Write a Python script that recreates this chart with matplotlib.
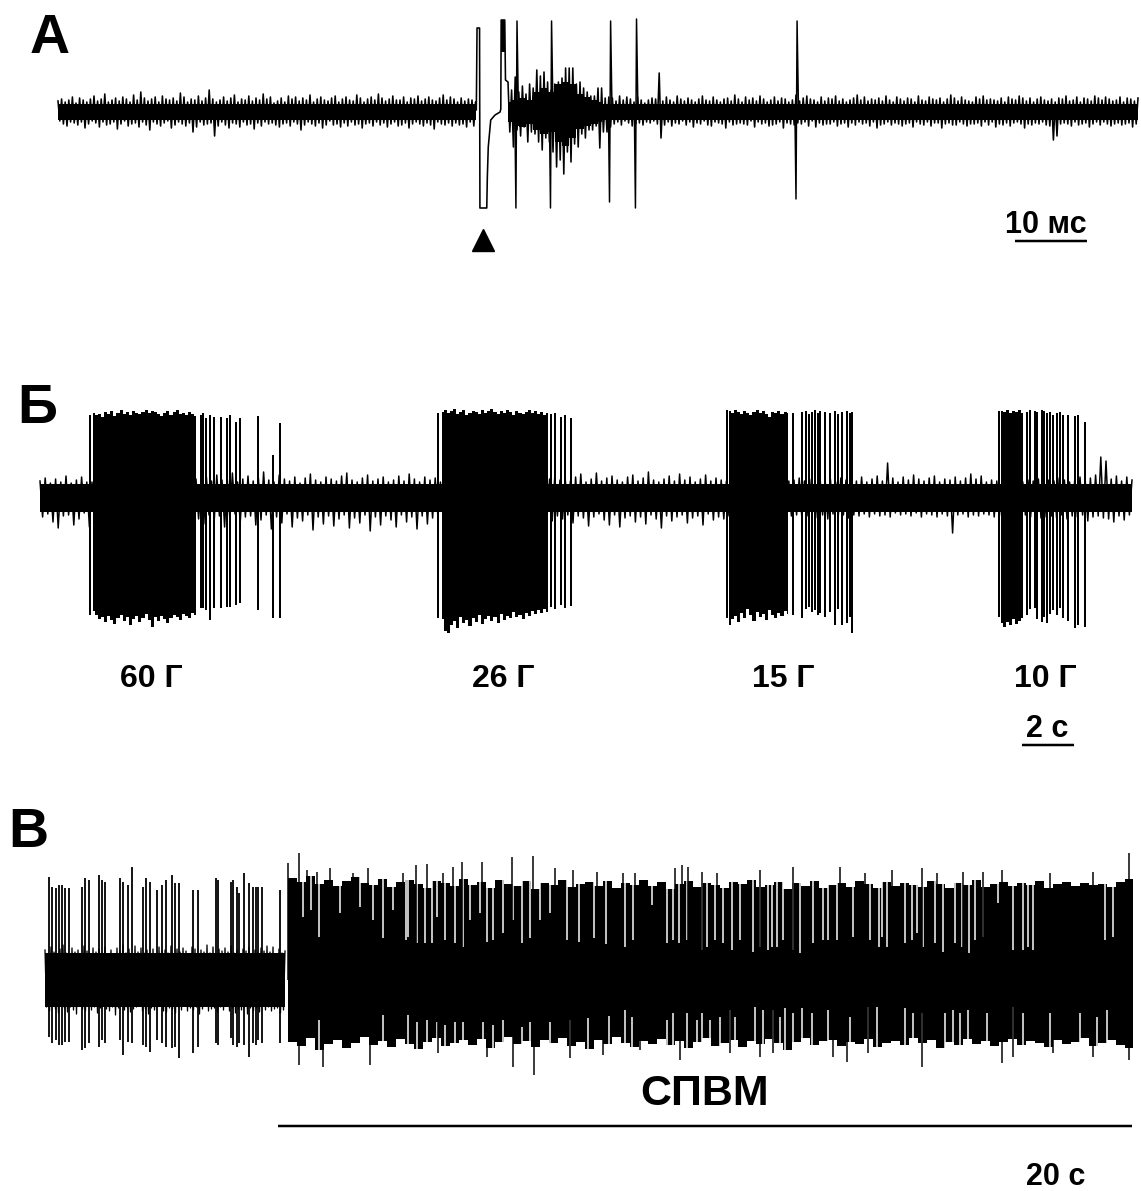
import matplotlib.pyplot as plt
import numpy as np

plt.rcParams['font.family'] = ['Liberation Sans', 'DejaVu Sans']
plt.rcParams['font.weight'] = 'bold'

W, H, DPI = 1141, 1191, 100
PX = 72.0 / DPI  # one pixel expressed in points

# ---------------- A: evoked response (time in ms, amplitude in a.u.) ----------------
a_dt = 0.25
a_pre = [11, -9, 13, -12, 10, -14, 12, -10, 15, -11,
         9, -13, 14, -10, 12, -16, 10, -12, 13, -9,
         16, -11, 11, -15, 13, -10, 18, -13, 10, -12,
         12, -10, 14, -17, 11, -12, 15, -9, 13, -14,
         10, -12, 17, -11, 12, -15, 20, -10, 14, -13,
         11, -18, 13, -10, 15, -12, 10, -14, 16, -11,
         13, -9, 12, -16, 14, -13, 11, -10, 19, -12,
         15, -14, 10, -11, 13, -20, 12, -15, 16, -10,
         11, -13, 14, -12, 22, -11, 13, -24, 10, -14,
         12, -10, 15, -13, 11, -16, 14, -11, 17, -12,
         10, -15, 13, -10, 12, -13, 16, -12, 11, -17,
         14, -11, 12, -14, 18, -10, 13, -12, 15, -11,
         9, -13, 11, -15, 14, -12, 10, -11, 16, -14,
         13, -10, 15, -12, 11, -18, 14, -13, 12, -10,
         17, -12, 10, -14, 13, -11, 15, -16, 12, -13,
         11, -9, 14, -13, 16, -12, 10, -15, 13, -11,
         15, -14, 12, -10, 11, -13, 17, -12, 14, -16,
         10, -12, 13, -11, 15, -14, 12, -10, 18, -13,
         14, -11, 11, -15, 13, -12, 16, -10, 12, -14,
         12, -13, 15, -11, 10, -16, 14, -12, 13, -10,
         16, -12, 11, -14, 13, -11, 15, -13, 12, -17,
         11, -10, 14, -12, 17, -13, 12, -11, 15, -14,
         13, -11, 10, -13, 14, -12, 11, -15, 13, -10,
         12, -14, 10]
a_art_t = [58.1, 58.2, 58.55, 58.6, 59.55, 59.63, 59.76, 60.1, 60.7, 61.4, 61.5, 61.55, 62.05, 62.15]
a_art_v = [2, 84, 84, -96, -96, -65, -35, -8, -3, 0, 3, 92, 92, 32]
a_post_t0 = 62.5
a_post = [30, -20, 22, -35, 35, -18, 20, -24, 26, -15,
          18, -30, 28, -20, 24, -22, 42, -30, 36, -38,
          40, -26, 30, -30, 22, -40, 28, -55, 30, -48,
          34, -62, 44, -40, 44, -50, 44, -32, 28, -35,
          30, -22, 24, -26, 20, -18, 16, -18, 16, -14,
          24, -36, 24, -20, 14, -20, 15, -15,
          14, -12, 11, -10, 16, -13, 12, -9, 15, -11,
          13, -14, 10, -12, 15, -11, 12, -13, 9, -10,
          12, -11, 14, -9, 13, -12, 39, -26, 11, -13,
          15, -10, 12, -14, 10, -11, 16, -12, 13, -9,
          11, -13, 14, -10, 12, -15, 10, -11, 13, -12,
          16, -9, 12, -13, 11, -14, 15, -10, 12, -11,
          10, -12, 13, -16, 14, -10, 11, -13, 17, -12,
          13, -11, 10, -12, 15, -13, 12, -9, 14, -15,
          11, -10, 16, -12, 13, -11, 10, -14, 12, -13,
          15, -12, 11, -10, 14, -16, 13, -11, 10, -12,
          12, -13, 17, -11, 11, -12, 14, -10, 16, -14,
          13, -9, 12, -15, 10, -11, 15, -13, 11, -12,
          14, -12, 13, -10, 16, -14, 11, -12, 13, -11,
          10, -15, 12, -11, 14, -13, 17, -10, 12, -12,
          15, -11, 11, -14, 13, -10, 12, -16, 14, -13,
          11, -12, 16, -10, 12, -13, 10, -11, 15, -12,
          13, -14, 11, -12, 14, -11, 13, -15, 10, -10,
          16, -12, 12, -13, 11, -10, 15, -14, 13, -11,
          12, -11, 14, -16, 10, -12, 13, -11, 17, -13,
          14, -13, 11, -10, 15, -12, 12, -14, 11, -12,
          10, -12, 15, -11, 13, -14, 16, -10, 12, -13,
          13, -10, 12, -15, 11, -12, 14, -13, 10, -11,
          15, -14, 13, -11, 12, -10, 16, -12, 14, -16,
          11, -12, 14, -13, 10, -11, 13, -12, 15, -10,
          12, -13, 11, -14, 13, -28, 10, -24, 14, -12,
          13, -11, 16, -12, 11, -14, 12, -10, 15, -13,
          10, -12, 14, -11, 13, -15, 11, -12, 16, -10,
          14, -13, 12, -10, 15, -12, 13, -14, 11, -12,
          12, -11, 15, -13, 10, -12, 14, -11, 13, -15,
          11, -12, 14]
# dense part of the response, 1 ms bins
a_resp_t0 = 62.5
a_resp_top = [10, 12, 14, 12, 20, 24, 20, 28, 30, 28, 18, 15, 12, 10]
a_resp_bot = [-10, -14, -15, -12, -18, -22, -20, -30, -34, -26, -17, -14, -12, -10]
a_spike_t = [63.7, 68.5, 76.7, 80.3, 102.6]
a_spike_top = [91, 91, 91, 93, 91]
a_spike_bot = [-96, -96, -90, -96, -87]
a_stim_t = 59.0

# ---------------- Б: responses to loads (time in s) ----------------
b_dt = 0.1
b_noise = [16, -20, 19, -17, 14, -25, 18, -31, 15, -19,
           21, -18, 14, -28, 17, -22, 20, -16, 15, -30,
           15, -18, 16, -19, 15, -18, 16, -19, 15, -18,
           16, -19, 15, -18, 16, -19, 15, -18, 16, -19,
           15, -18, 16, -19, 15, -18, 16, -19, 15, -18,
           16, -19, 15, -18, 16, -19, 15, -18, 16, -19,
           18, -22, 15, -27, 20, -18, 16, -24, 22, -19,
           17, -30, 19, -21, 24, -17, 15, -26, 18, -20,
           21, -19, 16, -28, 19, -23, 25, -18, 17, -32,
           15, -20, 22, -26, 18, -17, 16, -30, 20, -21,
           14, -24, 19, -18, 23, -33, 17, -20, 15, -27,
           20, -19, 18, -29, 16, -22, 21, -18, 24, -31,
           17, -21, 15, -26, 19, -18, 22, -34, 16, -20,
           18, -28, 20, -19, 15, -23, 17, -30, 21, -18,
           16, -25, 23, -20, 18, -32, 15, -19, 20, -27,
           17, -21, 19, -18, 15, -19, 16, -18, 15, -19,
           16, -18, 15, -19, 16, -18, 15, -19, 16, -18,
           15, -19, 16, -18, 15, -19, 16, -18, 15, -19,
           16, -18, 15, -19, 16, -18, 15, -19, 16, -18,
           15, -19, 16, -18, 15, -20, 18, -24, 21, -19,
           17, -22, 19, -18, 16, -26, 20, -19, 23, -21,
           15, -29, 18, -20, 24, -17, 16, -23, 19, -28,
           21, -18, 17, -30, 15, -21, 20, -19, 22, -25,
           16, -20, 19, -27, 25, -18, 17, -22, 15, -31,
           18, -19, 21, -24, 16, -20, 23, -18, 17, -26,
           20, -21, 15, -19, 18, -28, 22, -17, 16, -23,
           19, -20, 17, -22, 16, -19, 15, -18, 16, -19,
           15, -18, 16, -19, 15, -18, 16, -19, 15, -18,
           16, -19, 15, -18, 16, -19, 15, -18, 16, -19,
           17, -18, 19, -20, 16, -19, 18, -17, 15, -21,
           20, -18, 16, -22, 18, -17, 15, -20, 19, -18,
           17, -21, 22, -18, 16, -19, 20, -17, 15, -20,
           18, -17, 21, -19, 16, -18, 34, -20, 19, -16,
           15, -18, 20, -17, 17, -19, 22, -16, 18, -20,
           16, -17, 19, -18, 21, -20, 15, -17, 18, -19,
           17, -36, 20, -18, 16, -17, 19, -20, 23, -18,
           18, -19, 21, -17, 15, -18, 17, -20, 16, -19,
           15, -18, 16, -19, 15, -18, 16, -19, 15, -18,
           17, -20, 16, -19, 18, -21, 15, -20, 17, -19,
           16, -21, 19, -18, 17, -22, 15, -19, 18, -20,
           20, -18, 17, -24, 19, -20, 22, -19, 40, -21,
           36, -22, 18, -25, 21, -19, 16, -23, 20, -18,
           17]
b_burst_dt = 0.12
b_burst_start = [2.04, 15.46, 26.5, 36.96]
b1_top = [84, 82, 83, 80, 85, 83, 86, 81, 84, 87, 83, 85, 82, 86, 84, 83, 85,
          87, 84, 86, 85, 83, 81, 84, 86, 82, 85, 87, 83, 84, 82, 85, 83, 81]
b1_bot = [-114, -118, -122, -120, -125, -119, -123, -127, -121, -118, -124, -120,
          -128, -122, -119, -125, -121, -117, -123, -130, -120, -124, -119, -122,
          -126, -121, -118, -120, -123, -117, -119, -121, -116, -118]
b2_top = [85, 87, 84, 86, 88, 83, 85, 87, 82, 84, 86, 85, 83, 87, 84, 86, 88, 85,
          83, 86, 84, 87, 85, 82, 86, 84, 83, 85, 87, 84, 86, 83, 85, 82, 84]
b2_bot = [-122, -134, -136, -128, -124, -131, -120, -126, -123, -129, -121, -125,
          -118, -127, -122, -119, -124, -120, -126, -117, -123, -119, -121, -115,
          -120, -118, -122, -116, -119, -114, -117, -113, -116, -112, -115]
b3_top = [86, 84, 87, 85, 83, 86, 84, 82, 85, 87, 84, 86, 83, 80, 85, 84, 86, 83, 85, 84]
b3_bot = [-128, -122, -119, -125, -116, -121, -112, -118, -124, -115,
          -120, -117, -123, -113, -118, -121, -116, -119, -114, -117]
b4_top = [86, 85, 87, 84, 86, 85, 87, 84]
b4_bot = [-126, -130, -125, -128, -122, -127, -124, -121]
b_spike_t = [1.92, 6.18, 6.28, 6.37, 6.54, 6.70, 6.95, 7.20, 7.31, 7.54, 7.69, 8.40, 8.95, 9.23,
             15.31, 19.65, 19.81, 20.04, 20.19, 20.42,
             26.42, 28.97, 29.30, 29.46, 29.58, 29.69, 29.81, 29.92, 30.00, 30.19, 30.38,
             30.58, 30.70, 30.83, 31.03, 31.15, 31.22,
             36.88, 37.95, 38.08, 38.27, 38.35, 38.54, 38.63, 38.73, 38.85, 38.97, 39.10,
             39.23, 39.36, 39.55, 39.81, 39.94, 40.19]
b_spike_top = [82, 82, 84, 79, 82, 80, 80, 79, 82, 75, 79, 81, 42, 74,
               84, 83, 84, 80, 82, 79,
               87, 84, 85, 86, 83, 85, 87, 84, 86, 85, 84,
               86, 83, 85, 86, 84, 85,
               86, 85, 87, 86, 85, 87, 86, 84, 85, 82, 84,
               85, 82, 82, 81, 82, 75]
b_spike_bot = [-118, -111, -111, -113, -123, -111, -111, -110, -110, -108, -106, -113, -121, -121,
               -121, -110, -112, -108, -111, -109,
               -121, -118, -121, -112, -110, -115, -113, -118, -116, -120, -115,
               -128, -112, -128, -126, -120, -136,
               -120, -118, -112, -111, -122, -125, -120, -126, -117, -113, -118,
               -111, -121, -124, -131, -128, -130]
b_loads = ['60 Г', '26 Г', '15 Г', '10 Г']
b_load_t = [4.3, 17.8, 28.6, 38.65]

# ---------------- В: activity before and during СПВМ (time in s) ----------------
v_noise_dt = 0.5
v_noise = [30, -27, 26, -31, 33, -25, 28, -29, 24, -33,
           31, -26, 35, -28, 27, -32, 25, -27, 32, -30,
           28, -34, 30, -25, 26, -29, 34, -31, 29, -26,
           25, -30, 32, -27, 28, -33, 31, -28, 27, -25,
           33, -29, 26, -31, 30, -27, 24, -35, 32, -28,
           29, -26, 35, -30, 27, -28, 31, -32, 26, -29,
           34, -27, 28, -25, 32, -31, 27, -29, 30, -34,
           26, -28, 31, -30, 25, -27, 33, -26, 29, -31,
           30, -32, 27, -28, 34, -29, 26, -33, 31, -27,
           28, -30, 32, -26, 29, -31, 25, -28, 33, -30,
           31, -27, 26, -34, 30, -29, 28, -26, 35, -31,
           27, -29, 33, -28, 26, -32, 31, -27, 29, -30,
           32, -26, 28, -31, 34, -28, 27, -33, 30, -29,
           25, -30, 31, -27, 29, -34, 33, -28, 26, -31,
           30, -28, 27, -32, 32, -26, 29, -30, 34, -27,
           28, -31, 33, -29, 26, -28, 31, -33, 27, -30,
           29]
v_env_dt = 3.0
v_env_t0 = 81.0
v_env_top = [102, 98, 104, 96, 100, 94, 99, 103, 97, 95,
             101, 93, 98, 100, 96, 92, 99, 97, 94, 101,
             95, 98, 92, 100, 96, 94, 99, 91, 97, 95,
             100, 93, 96, 98, 94, 99, 92, 97, 95, 100,
             94, 98, 91, 96, 99, 93, 97, 95, 92, 98,
             96, 100, 93, 95, 98, 91, 97, 94, 99, 92,
             95, 97, 93, 99, 96, 92, 98, 94, 97, 95,
             93, 99, 96, 92, 97, 95, 100, 93, 96, 98,
             94, 97, 95, 99, 92, 96, 98, 94, 97, 95,
             96, 93, 98, 101]
v_env_bot = [-62, -66, -58, -70, -64, -60, -68, -63, -57, -65,
             -61, -67, -59, -64, -69, -62, -58, -66, -63, -60,
             -65, -59, -68, -62, -57, -64, -61, -67, -60, -63,
             -58, -66, -62, -69, -60, -64, -57, -63, -67, -61,
             -64, -59, -65, -61, -68, -62, -58, -66, -63, -60,
             -67, -61, -64, -59, -63, -70, -62, -58, -65, -61,
             -60, -66, -62, -64, -59, -67, -63, -61, -65, -58,
             -63, -60, -68, -62, -65, -59, -64, -61, -66, -62,
             -59, -65, -61, -63, -67, -60, -64, -62, -58, -66,
             -63, -60, -65, -68]
v_end_t = 362.7
v_pre_t = [1.44, 2.22, 3.67, 4.78, 5.56, 6.67, 8.11, 12.22, 13.33, 14.78, 18.11, 18.89,
           20.0, 25.0, 25.89, 27.78, 28.89, 32.78, 33.67, 35.0, 37.22, 38.89, 40.33,
           42.22, 43.33, 44.78, 49.44, 51.11, 57.0, 57.78, 61.89, 62.78, 63.89, 64.78,
           66.33, 68.11, 69.22, 70.33, 71.11, 72.22, 78.33]
v_pre_top = [103, 93, 92, 95, 95, 92, 92, 93, 102, 100, 105, 100, 98, 102, 98, 95, 113,
             93, 102, 98, 90, 95, 100, 105, 97, 97, 90, 90, 102, 100, 98, 100, 93, 87,
             107, 97, 93, 93, 93, 93, 90]
v_pre_bot = [-57, -63, -60, -65, -65, -62, -62, -70, -68, -63, -67, -60, -63, -60, -75,
             -62, -63, -65, -67, -72, -60, -63, -67, -68, -67, -78, -73, -67, -63, -65,
             -58, -65, -67, -63, -65, -77, -63, -65, -60, -63, -63]
v_up_t = [81.1, 84.8, 87.2, 90.6, 95.0, 102.8, 107.8, 119.4, 123.7, 127.2, 132.8, 135.9,
          138.9, 145.6, 155.6, 162.8, 170.0, 176.0, 184.0, 192.8, 196.7, 210.0, 212.2,
          214.4, 218.9, 223.9, 238.3, 249.4, 265.0, 273.3, 282.2, 292.2, 297.2, 306.1,
          312.8, 318.9, 335.0, 349.4, 361.4]
v_up_top = [117, 127, 110, 108, 112, 107, 112, 107, 115, 116, 107, 113, 118, 118, 123,
            124, 112, 110, 108, 107, 107, 112, 115, 113, 108, 107, 110, 113, 113, 107,
            110, 112, 107, 108, 108, 110, 107, 108, 127]
v_dn_t = [84.8, 92.8, 108.3, 131.1, 147.2, 156.1, 163.0, 175.0, 186.0, 198.3, 211.7,
          228.3, 238.3, 242.8, 262.8, 267.2, 274.4, 292.2, 318.9, 322.8, 336.1, 349.4, 361.4]
v_dn_bot = [-85, -87, -85, -73, -77, -87, -95, -78, -75, -70, -80, -73, -77, -73, -77,
            -82, -73, -87, -83, -77, -73, -77, -80]
v_gap_top_t = [86.1, 88.6, 91.4, 98.3, 105.0, 109.4, 112.8, 116.1, 120.3, 121.1,
               123.9, 126.7, 128.9, 130.6, 133.3, 136.7, 139.2, 141.7, 145.0, 147.2,
               149.4, 152.8, 155.9, 158.9, 161.7, 165.0, 168.3, 174.0, 178.0, 183.0,
               187.0, 193.3, 196.1, 202.2, 207.2, 209.4, 211.4, 213.9, 218.9, 220.6,
               223.3, 226.1, 228.9, 231.7, 236.1, 238.3, 241.1, 242.2, 243.9, 246.1,
               249.4, 251.7, 256.1, 259.4, 261.1, 263.9, 269.4, 275.0, 278.1, 278.9,
               280.6, 286.7, 288.9, 290.6, 292.6, 296.7, 299.4, 303.3, 305.6, 308.1,
               310.0, 312.8, 317.8, 322.8, 326.1, 327.8, 329.4, 353.3, 356.1]
v_gap_top_v = [63, 70, 43, 67, 73, 60, 42, 70, 40, 43, 37, 37, 37, 63, 40, 37, 33, 60, 67, 38,
               40, 47, 60, 37, 42, 60, 67, 40, 38, 42, 36, 33, 40, 75, 37, 40, 37, 40, 30, 33,
               40, 37, 30, 40, 28, 33, 30, 33, 33, 40, 30, 27, 37, 40, 40, 40, 43, 40, 33, 43,
               33, 37, 40, 47, 33, 37, 28, 37, 33, 27, 40, 43, 77, 30, 30, 33, 30, 40, 43]
v_gap_bot_t = [91.4, 112.8, 121.1, 123.9, 127.2, 130.6, 133.3, 136.7, 139.4, 146.1,
               149.4, 152.8, 158.9, 161.7, 168.3, 175.0, 181.0, 188.0,
               193.3, 195.6, 207.2, 209.4, 213.9, 217.2, 218.9, 221.7, 225.0, 228.3,
               230.0, 236.7, 239.4, 242.8, 245.0, 246.7, 249.4, 252.2, 255.6, 261.1,
               268.3, 274.4, 277.2, 286.7, 289.4, 292.2, 300.0, 302.8, 305.0, 307.8,
               313.9, 322.8, 326.1, 335.0, 345.0, 350.6, 353.9]
v_gap_bot_v = [-40, -35, -35, -42, -40, -42, -45, -42, -42, -42, -45, -40, -47, -42, -42,
               -40, -38, -36,
               -30, -37, -40, -33, -33, -40, -33, -40, -37, -30, -37, -27, -30, -30, -37,
               -28, -33, -28, -33, -30, -37, -27, -27, -28, -33, -33, -33, -30, -33, -30,
               -33, -27, -33, -33, -33, -37, -30]
v_stim_t = (77.7, 362.3)


def panel(fig, y_top, y_bot, x0, px_per_x, y_base):
    # full-width axes between pixel rows y_top..y_bot, 1 amplitude unit = 1 px
    ax = fig.add_axes([0, 1 - y_bot / H, 1, (y_bot - y_top) / H])
    ax.set_xlim(-x0 / px_per_x, (W - x0) / px_per_x)
    ax.set_ylim(y_base - y_bot, y_base - y_top)
    ax.axis('off')
    return ax


fig = plt.figure(figsize=(W / DPI, H / DPI), dpi=DPI, facecolor='white')

# ---- A ----
ax = panel(fig, 0, 300, 58, 7.2, 112)
t_pre = np.arange(len(a_pre)) * a_dt
t_post = a_post_t0 + np.arange(len(a_post)) * a_dt
ax.fill_between(t_pre, -8, 8, color='k', lw=0)
ax.fill_between(t_post, -8, 8, color='k', lw=0)
t_resp = a_resp_t0 + np.arange(len(a_resp_top))
ax.fill_between(t_resp, a_resp_bot, a_resp_top, step='mid', color='k', lw=0)
trace_t = np.concatenate([t_pre, a_art_t, t_post])
trace_v = np.concatenate([a_pre, a_art_v, a_post])
ax.plot(trace_t, trace_v, color='k', lw=1.6 * PX)
# first action potential right after the artefact is drawn solid at the top
ax.fill_between(a_art_t[-4:-1], 60, a_art_v[-4:-1], where=[False, True, True], color='k', lw=0)
for t, top, bot in zip(a_spike_t, a_spike_top, a_spike_bot):
    ax.plot([t - 0.25, t - 0.1, t + 0.05, t + 0.25], [0, bot, top, 0], color='k', lw=1.5 * PX)
ax.plot([a_stim_t], [-128], marker='^', ms=22 * PX, color='k')
ax.plot([132.9, 142.9], [-129, -129], color='k', lw=2.5 * PX, solid_capstyle='butt')
ax.text(142.9, -121, '10 мс', ha='right', va='baseline', fontsize=22, fontweight='bold')

# ---- Б ----
ax = panel(fig, 300, 770, 40, 26.0, 497)
t_b = np.arange(len(b_noise)) * b_dt
ax.fill_between(t_b, -15, 13, color='k', lw=0)
ax.plot(t_b, b_noise, color='k', lw=1.5 * PX)
for start, top, bot in zip(b_burst_start, [b1_top, b2_top, b3_top, b4_top],
                           [b1_bot, b2_bot, b3_bot, b4_bot]):
    tt = start + np.arange(len(top)) * b_burst_dt
    ax.fill_between(tt, bot, top, step='mid', color='k', lw=0)
ax.vlines(b_spike_t, b_spike_bot, b_spike_top, color='k', lw=2 * PX)
for name, t in zip(b_loads, b_load_t):
    ax.text(t, -190, name, ha='center', va='baseline', fontsize=23, fontweight='bold')
ax.plot([37.75, 39.75], [-248, -248], color='k', lw=2.5 * PX, solid_capstyle='butt')
ax.text(38.75, -240, '2 с', ha='center', va='baseline', fontsize=22, fontweight='bold')

# ---- В ----
ax = panel(fig, 770, H, 45, 3.0, 980)
t_v = np.arange(len(v_noise)) * v_noise_dt
ax.fill_between(t_v, -27, 27, color='k', lw=0)
ax.plot(t_v, v_noise, color='k', lw=1.3 * PX)
env_t = np.append(v_env_t0 + np.arange(len(v_env_top)) * v_env_dt, v_end_t)
ax.fill_between(env_t, np.append(v_env_bot, v_env_bot[-1]), np.append(v_env_top, v_env_top[-1]),
                step='post', color='k', lw=0)
ax.vlines(v_gap_top_t, v_gap_top_v, 140, color='w', lw=1.5 * PX)
ax.vlines(v_gap_bot_t, -140, v_gap_bot_v, color='w', lw=1.5 * PX)
ax.vlines(v_pre_t, v_pre_bot, v_pre_top, color='k', lw=1.8 * PX)
ax.vlines(v_up_t, 0, v_up_top, color='k', lw=1.5 * PX)
ax.vlines(v_dn_t, v_dn_bot, 0, color='k', lw=1.5 * PX)
ax.plot(v_stim_t, [-146, -146], color='k', lw=2.5 * PX, solid_capstyle='butt')
ax.text(220, -125, 'СПВМ', ha='center', va='baseline', fontsize=31, fontweight='bold')
ax.text(337, -205, '20 с', ha='center', va='baseline', fontsize=22, fontweight='bold')

# panel letters
for letter, x, y in [('А', 30, 53), ('Б', 17, 423), ('В', 8, 847)]:
    fig.text(x / W, 1 - y / H, letter, ha='left', va='baseline', fontsize=40, fontweight='bold')

fig.savefig('out.png', dpi=DPI, facecolor='white')
